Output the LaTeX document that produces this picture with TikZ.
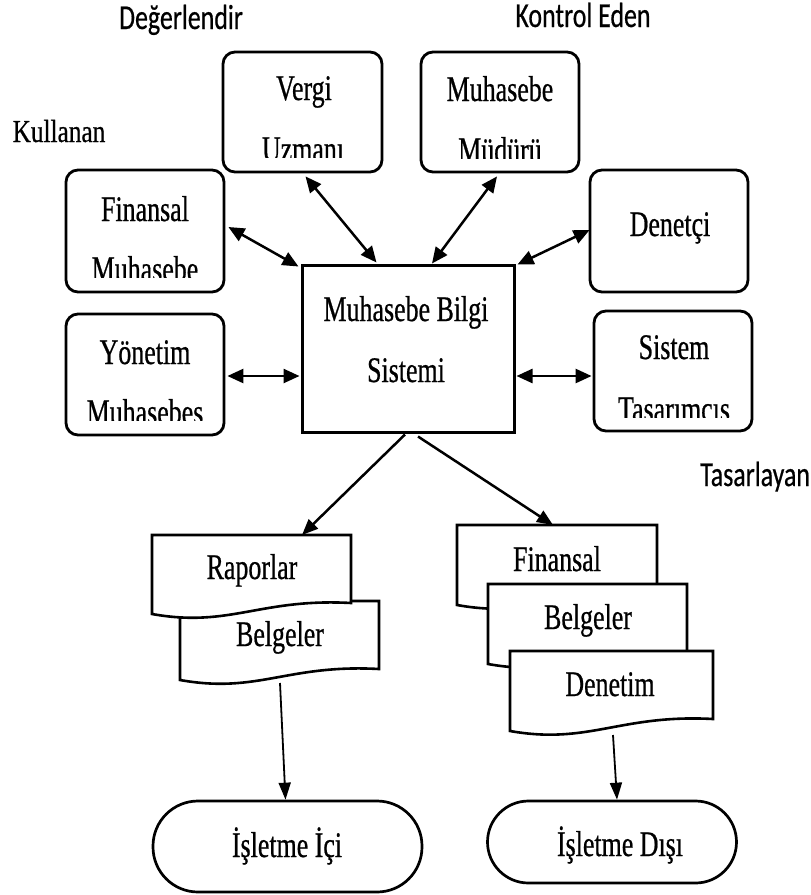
\documentclass[tikz,border=0pt]{standalone}
\usepackage{fontspec}
\setmainfont{Liberation Serif}
\newfontfamily\boxfont[FakeStretch=0.72,FakeBold=0.6]{Liberation Serif}
\newfontfamily\lblfont[FakeStretch=0.74,FakeBold=0.5]{Carlito}
\newfontfamily\sidefont[FakeStretch=0.79,FakeBold=0.6]{Liberation Serif}
\usetikzlibrary{arrows.meta,calc}
\begin{document}
\begin{tikzpicture}[x=1pt,y=-1pt,
  rbox/.style={draw,line width=2.8pt,rounded corners=12pt,inner sep=0pt},
  mainbox/.style={draw,line width=3pt,inner sep=0pt},
  txt/.style={anchor=base,inner sep=0pt,font=\boxfont\fontsize{36}{40}\selectfont},
  lbl/.style={anchor=base,inner sep=0pt,font=\lblfont\fontsize{35}{40}\selectfont},
  side/.style={anchor=base,inner sep=0pt,font=\sidefont\fontsize{32}{36}\selectfont},
  docbox/.style={draw,fill=white,line width=2.6pt,line join=miter},
  link/.style={line width=2.5pt,{Triangle[length=16pt,width=14pt]}-{Triangle[length=16pt,width=14pt]}},
  flow/.style={line width=2.5pt,-{Triangle[length=16pt,width=13pt]}},
  down/.style={line width=1.8pt,-{Triangle[length=17pt,width=12pt]}},
  term/.style={draw,line width=2.7pt,inner sep=0pt}
]
\useasboundingbox (0,0) rectangle (811,895);

% role labels
\node[lbl] (lDeg) at (181,29) {Değerlendir};
\node[lbl] (lKon) at (583,27) {Kontrol Eden};
\node[side] (lKul) at (59,142) {Kullanan};
\node[lbl,anchor=base west] (lTas) at (700,486) {Tasarlayan};

% user boxes
\node[rbox,minimum width=159pt,minimum height=120pt] (vergi) at (302.5,112) {};
\node[rbox,minimum width=158pt,minimum height=120pt] (mudur) at (500,112) {};
\node[rbox,minimum width=158pt,minimum height=122pt] (finmuh) at (145,231) {};
\node[rbox,minimum width=158pt,minimum height=122pt] (denetci) at (669,231) {};
\node[rbox,minimum width=158pt,minimum height=121pt] (yonetim) at (145,374.5) {};
\node[rbox,minimum width=158pt,minimum height=120pt] (sistem) at (673,371) {};
\node[mainbox,minimum width=212pt,minimum height=167pt] (mbs) at (408,348.5) {};

% box texts (second lines are cut off by their text frames)
\node[txt] (tVergi) at (304,100) {Vergi};
\begin{scope}
  \clip (223,52) rectangle (382,157);
  \node[txt] (tUzman) at (303,161) {Uzmanı};
\end{scope}
\node[txt] (tMuh) at (500,101) {Muhasebe};
\begin{scope}
  \clip (421,52) rectangle (579,158);
  \node[txt] (tMud) at (500,162) {Müdürü};
\end{scope}
\node[txt] (tFin) at (145,221) {Finansal};
\begin{scope}
  \clip (66,170) rectangle (224,277);
  \node[txt] (tFinMuh) at (145,281) {Muhasebe};
\end{scope}
\node[txt] (tDen) at (670,236) {Denetçi};
\node[txt] (tYon) at (145,364) {Yönetim};
\begin{scope}
  \clip (66,314) rectangle (224,420);
  \node[txt] (tYonMuh) at (145,424) {Muhasebes};
\end{scope}
\node[txt] (tSis) at (674,359) {Sistem};
\begin{scope}
  \clip (594,311) rectangle (752,417);
  \node[txt] (tTas) at (674,421) {Tasarımcıs};
\end{scope}
\node[txt] (tMbs1) at (406,321) {Muhasebe Bilgi};
\node[txt] (tMbs2) at (406,382) {Sistemi};

% two-way links
\draw[link] ($(finmuh.east)+(3,-4)$) -- ($(mbs.north west)+(-2,3)$);
\draw[link] ($(vergi.south)+(3,3)$) -- ($(mbs.north west)+(76,-1)$);
\draw[link] ($(mudur.south)+(-3,3)$) -- ($(mbs.north)+(24,0)$);
\draw[link] ($(denetci.west)+(1,-1)$) -- ($(mbs.north east)+(2,1)$);
\draw[link] ($(yonetim.east)+(2,1.5)$) -- ($(mbs.west)+(-1,27.5)$);
\draw[link] ($(mbs.east)+(1,27.5)$) -- ($(sistem.west)+(-1,5)$);

% document stacks
\coordinate (rapIn) at (302,535);
\coordinate (finIn) at (553,525);
\coordinate (belOut) at (280,683);
\coordinate (denOut) at (613,735);

\draw[docbox] (180,601) -- (379,601) -- (379,669)
  .. controls (287,664) and (258,694) .. (180,680) -- cycle;
\draw[docbox] (152,535) -- (351,535) -- (351,603)
  .. controls (260,598) and (230,628) .. (152,614) -- cycle;
\node[txt] (tRap) at (252,579) {Raporlar};
\node[txt] (tBelL) at (280,646) {Belgeler};

\draw[docbox] (457,525) -- (657,525) -- (657,594)
  .. controls (565,589) and (535,619) .. (457,605) -- cycle;
\draw[docbox] (488,584) -- (687,584) -- (687,653)
  .. controls (595,648) and (566,678) .. (488,664) -- cycle;
\draw[docbox] (510,651) -- (713,651) -- (713,719)
  .. controls (620,714) and (589,745) .. (510,731) -- cycle;
\node[txt] (tFinR) at (557,571) {Finansal};
\node[txt] (tBelR) at (588,629) {Belgeler};
\node[txt] (tDenR) at (610,696) {Denetim};

% outputs of the system
\draw[flow] ($(mbs.south)+(-3,1)$) -- (rapIn);
\draw[flow] ($(mbs.south)+(10,3)$) -- (finIn);

% terminals
\node[term,minimum width=269pt,minimum height=91pt,rounded corners=45pt] (ic) at (287.5,846.5) {};
\node[term,minimum width=249pt,minimum height=82pt,rounded corners=41pt] (dis) at (612,842) {};
\node[txt] (tIc) at (287,857) {İşletme İçi};
\node[txt] (tDis) at (620,856) {İşletme Dışı};

\draw[down] (belOut) -- ([xshift=-2pt]ic.north);
\draw[down] (denOut) -- ([xshift=5pt]dis.north);
\end{tikzpicture}
\end{document}
